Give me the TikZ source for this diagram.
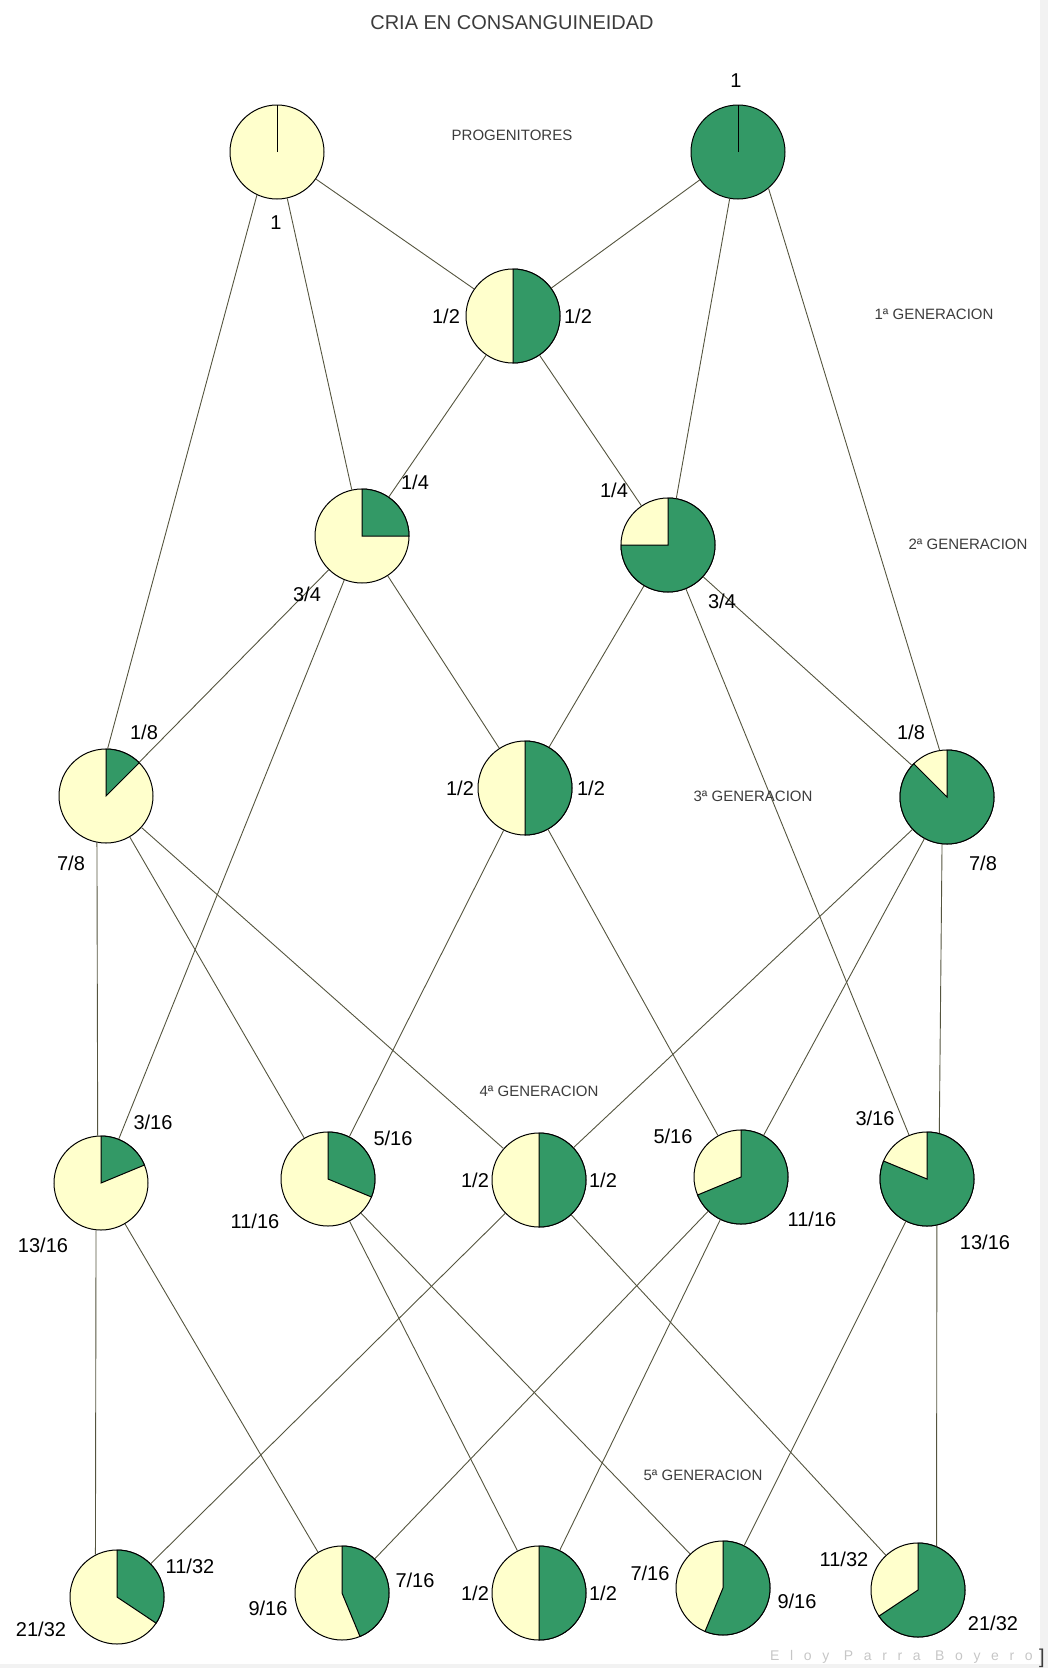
\documentclass[tikz,border=0pt]{standalone}
\usepackage{fontspec}
\setmainfont{Liberation Sans}
\usepackage{xcolor}
\usepackage{tikz}

\definecolor{cream}{HTML}{FFFFCC}
\definecolor{leaf}{HTML}{339966}
\definecolor{linkgray}{HTML}{55553F}
\definecolor{labelgray}{HTML}{3C3C3C}

\begin{document}
\begin{tikzpicture}[x=1pt, y=1pt,
  pie/.style={circle, draw=black, line width=1pt, minimum size=94pt, inner sep=0pt, fill=cream},
  wedge/.style={fill=leaf, draw=black, line width=1pt},
  link/.style={draw=linkgray, line width=0.9pt},
  frac/.style={font=\fontsize{20}{20}\selectfont, inner sep=0pt},
  gen/.style={font=\fontsize{15}{15}\selectfont, text=labelgray, inner sep=0pt}]
  \useasboundingbox (0,0) rectangle (1048,-1668);
  \fill[gray!10] (1040,0) rectangle (1048,-1668);
  \fill[gray!10] (0,-1664) rectangle (1048,-1668);

  \node[font=\fontsize{20}{20}\selectfont, text=labelgray] (titulo) at (512,-23) {CRIA EN CONSANGUINEIDAD};

  % progenitores
  \node[pie] (p1) at (277,-152) {};
  \draw[line width=1pt] (p1.center) -- ++(0,47);
  \node[pie, fill=leaf] (p2) at (738,-152) {};
  \draw[line width=1pt] (p2.center) -- ++(0,47);

  % descendientes: nombre/x/y/parte verde
  \foreach \n/\x/\y/\f in {g1/513/-316/0.5, g2a/362/-536/0.25, g2b/668/-545/0.75,
      g3a/106/-796/0.125, g3b/525/-788/0.5, g3c/947/-797/0.875,
      g4a/101/-1183/0.1875, g4b/328/-1179/0.3125, g4c/539/-1180/0.5,
      g4d/741/-1177/0.6875, g4e/927/-1179/0.8125,
      g5a/117/-1597/0.34375, g5b/342/-1593/0.4375, g5c/539/-1593/0.5,
      g5d/723/-1588/0.5625, g5e/918/-1590/0.65625}{
    \node[pie] (\n) at (\x,\y) {};
    \filldraw[wedge] (\n.center) -- ++(0,47) arc[start angle=90, delta angle={-360*\f}, radius=47] -- cycle;
  }

  % cruces
  \foreach \a/\b in {p1/g1, p2/g1, p1/g2a, g1/g2a, p2/g2b, g1/g2b,
      p1.245/g3a.88, g2a/g3a, g2a/g3b, g2b/g3b, p2.310/g3c.99, g2b/g3c,
      g2a/g4a, g3a.259/g4a.94, g3a/g4b, g3b/g4b, g3a/g4c, g3c/g4c,
      g3b/g4d, g3c/g4d, g2b/g4e, g3c.264/g4e.75,
      g4a.264/g5a.117, g4c/g5a, g4a/g5b, g4d/g5b, g4b/g5c, g4d/g5c,
      g4b/g5d, g4e/g5d, g4c/g5e, g4e.282/g5e.67}
    \draw[link] (\a) -- (\b);

  % rotulos
  \node[gen] (progen) at (512,-135) {PROGENITORES};
  \node[gen] (gen1) at (934,-314) {1ª GENERACION};
  \node[gen] (gen2) at (968,-544) {2ª GENERACION};
  \node[gen] (gen3) at (753,-796) {3ª GENERACION};
  \node[gen] (gen4) at (539,-1091) {4ª GENERACION};
  \node[gen] (gen5) at (703,-1475) {5ª GENERACION};

  \node[frac] (t-p1) at (276,-223) {1};
  \node[frac] (t-p2) at (736,-81) {1};
  \node[frac] (t-g1a) at (446,-316) {1/2};
  \node[frac] (t-g1b) at (578,-316) {1/2};
  \node[frac] (t-g2aa) at (415,-482) {1/4};
  \node[frac] (t-g2ab) at (307,-594) {3/4};
  \node[frac] (t-g2ba) at (614,-490) {1/4};
  \node[frac] (t-g2bb) at (722,-601) {3/4};
  \node[frac] (t-g3aa) at (144,-732) {1/8};
  \node[frac] (t-g3ab) at (71,-863) {7/8};
  \node[frac] (t-g3ba) at (460,-788) {1/2};
  \node[frac] (t-g3bb) at (591,-788) {1/2};
  \node[frac] (t-g3ca) at (911,-732) {1/8};
  \node[frac] (t-g3cb) at (983,-863) {7/8};
  \node[frac] (t-g4aa) at (153,-1122) {3/16};
  \node[frac] (t-g4ab) at (43,-1245) {13/16};
  \node[frac] (t-g4ba) at (393,-1138) {5/16};
  \node[frac] (t-g4bb) at (255,-1221) {11/16};
  \node[frac] (t-g4ca) at (475,-1180) {1/2};
  \node[frac] (t-g4cb) at (603,-1180) {1/2};
  \node[frac] (t-g4da) at (673,-1136) {5/16};
  \node[frac] (t-g4db) at (812,-1219) {11/16};
  \node[frac] (t-g4ea) at (875,-1118) {3/16};
  \node[frac] (t-g4eb) at (985,-1242) {13/16};
  \node[frac] (t-g5aa) at (190,-1566) {11/32};
  \node[frac] (t-g5ab) at (41,-1629) {21/32};
  \node[frac] (t-g5ba) at (415,-1580) {7/16};
  \node[frac] (t-g5bb) at (268,-1608) {9/16};
  \node[frac] (t-g5ca) at (475,-1593) {1/2};
  \node[frac] (t-g5cb) at (603,-1593) {1/2};
  \node[frac] (t-g5da) at (650,-1573) {7/16};
  \node[frac] (t-g5db) at (797,-1601) {9/16};
  \node[frac] (t-g5ea) at (844,-1559) {11/32};
  \node[frac] (t-g5eb) at (993,-1623) {21/32};

  \node[font=\fontsize{14}{14}\selectfont\addfontfeature{LetterSpace=76}, text=gray!45, inner sep=0pt, anchor=west] (firma) at (770,-1657) {Eloy Parra Boyero};
  \node[font=\fontsize{20}{20}\selectfont, text=labelgray, inner sep=0pt] (corchete) at (1042,-1658) {]};
\end{tikzpicture}
\end{document}
